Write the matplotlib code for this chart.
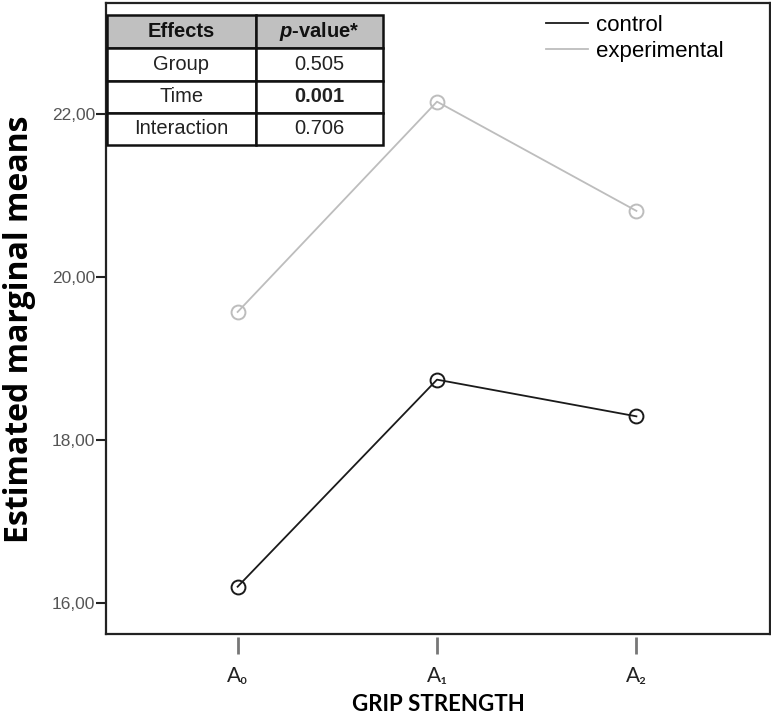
import matplotlib
matplotlib.use("Agg")
import matplotlib.pyplot as plt
from matplotlib.patches import Rectangle
from matplotlib.lines import Line2D

plt.rcParams['font.family'] = ['Liberation Sans', 'DejaVu Sans']
plt.rcParams['mathtext.fontset'] = 'custom'
plt.rcParams['mathtext.it'] = 'Liberation Sans:italic:bold'
plt.rcParams['mathtext.rm'] = 'Lato'

# ---- data ----
time_labels = ["A₀", "A₁", "A₂"]
control = [16.20, 18.74, 18.29]
experimental = [19.57, 22.15, 20.81]
y_ticks = [16, 18, 20, 22]
y_tick_labels = ["16,00", "18,00", "20,00", "22,00"]
effects = ["Group", "Time", "Interaction"]
p_values = ["0.505", "0.001", "0.706"]
p_bold = [False, True, False]

W, H = 771, 718
fig = plt.figure(figsize=(W / 100, H / 100), dpi=100)
L, R, B, T = 106, 770, 634, 3
ax = fig.add_axes([L / W, 1 - B / H, (R - L) / W, (B - T) / H])

# spines first (set_position resets ticks)
for s in ['top', 'right', 'left']:
    ax.spines[s].set_linewidth(1.6)
    ax.spines[s].set_color('#222222')
ax.spines['bottom'].set_position(('outward', 2))
ax.spines['bottom'].set_visible(False)
ax.add_line(Line2D([0, 1], [0, 0], transform=ax.transAxes, color='#222222',
                   lw=1.6, clip_on=False, zorder=5))

x = list(range(len(time_labels)))
ax.plot(x, control, color='#1a1a1a', lw=1.3, marker='o', ms=10,
        mfc='none', mec='#1a1a1a', mew=1.4, label='control', zorder=3)
ax.plot(x, experimental, color='#bdbdbd', lw=1.3, marker='o', ms=10,
        mfc='none', mec='#bdbdbd', mew=1.4, label='experimental', zorder=3)

ax.set_xlim(-0.66, 2.67)
ax.set_ylim(15.62, 23.36)

ax.tick_params(axis='y', direction='out', length=7, width=1.5, color='#222222', pad=1,
               labelsize=12.5, labelcolor='#555555')
ax.set_yticks(y_ticks)
ax.set_yticklabels(y_tick_labels)

ax.tick_params(axis='x', direction='out', length=12, width=2, color='#777777', pad=9,
               labelsize=15, labelcolor='#222222')
ax.set_xticks(x)
ax.set_xticklabels(time_labels, fontfamily=['Lato', 'DejaVu Sans'])

ax.set_ylabel("Estimated marginal means", fontsize=23, fontweight='bold',
              family=['Open Sans', 'DejaVu Sans'])
ax.yaxis.set_label_coords(-0.105, 0.483)
ax.set_xlabel("GRIP STRENGTH", fontsize=16, fontweight='bold',
              family=['Lato', 'DejaVu Sans'], labelpad=6)

leg = ax.legend(loc='upper left', bbox_to_anchor=((537 - L) / (R - L), 1 - (6 - T) / (B - T)),
                frameon=False, fontsize=16, handlelength=1.9, handletextpad=0.35,
                labelspacing=0.22, borderaxespad=0)
for h in leg.legend_handles:
    h.set_marker('')

# ---- table drawn in pixel coordinates ----
col_x = [107, 256, 383]
row_y = [15, 48, 81, 113, 145]
for r in range(4):
    for c in range(2):
        x0, y1 = col_x[c], row_y[r]
        x1, y0 = col_x[c + 1], row_y[r + 1]
        rect = Rectangle((x0 / W, 1 - y0 / H), (x1 - x0) / W, (y0 - y1) / H,
                         transform=fig.transFigure,
                         facecolor='#c0c0c0' if r == 0 else 'white',
                         edgecolor='#111111', lw=1.8, zorder=10)
        fig.patches.append(rect)

def cell_text(c, r, s, **kw):
    cx = (col_x[c] + col_x[c + 1]) / 2 / W
    cy = 1 - (row_y[r] + row_y[r + 1]) / 2 / H
    fig.text(cx, cy, s, ha='center', va='center', fontsize=14.5, zorder=11, **kw)

cell_text(0, 0, "Effects", fontweight='bold', color='#111111')
cell_text(1, 0, r"$\mathit{p}$-value*", fontweight='bold', color='#111111')
for i, (e, p, b) in enumerate(zip(effects, p_values, p_bold)):
    cell_text(0, i + 1, e, color='#222222')
    cell_text(1, i + 1, p, color='#222222', fontweight='bold' if b else 'normal')

fig.savefig("out.png", dpi=100)
